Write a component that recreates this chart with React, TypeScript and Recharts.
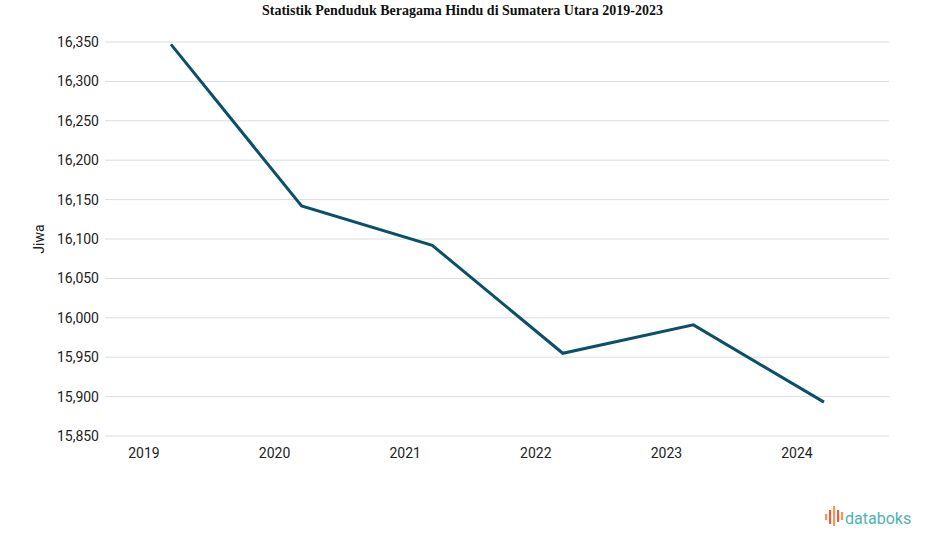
import React from 'react';
import { LineChart, Line, XAxis, YAxis, CartesianGrid } from 'recharts';

const years = ['2019', '2020', '2021', '2022', '2023', '2024'];
const jiwa = [16347, 16142, 16092, 15955, 15991, 15893];
const yTicks = [15850, 15900, 15950, 16000, 16050, 16100, 16150, 16200, 16250, 16300, 16350];

const data = years.map((year, i) => ({ year, value: jiwa[i] }));

const XTick = (props: any) => {
  const { x, y, payload } = props;
  return (
    <text x={x - 27} y={y + 14} textAnchor="middle" fontSize={14} fill="#222" fontFamily="Roboto">
      {payload.value}
    </text>
  );
};

const Logo = () => {
  const bars = [
    { x: 825, y: 514, h: 6, c: '#f29a52' },
    { x: 829, y: 510, h: 14, c: '#e85c4a' },
    { x: 833, y: 506, h: 20, c: '#f29a52' },
    { x: 837, y: 510, h: 12, c: '#e85c4a' },
    { x: 841, y: 512, h: 8, c: '#f29a52' },
  ];
  return (
    <g>
      {bars.map((b, i) => (
        <rect key={i} x={b.x} y={b.y} width={2.2} height={b.h} fill={b.c} />
      ))}
      <text x={845} y={524} fontSize={16} fill="#4cb5ad" fontFamily="Roboto">
        databoks
      </text>
    </g>
  );
};

const App: React.FC = () => {
  return (
    <div style={{ position: 'absolute', left: 0, top: 0, width: 925, height: 547, background: '#fff' }}>
      <LineChart width={925} height={547} data={data} margin={{ top: 42, right: 36, left: 0, bottom: 81 }}>
        <text
          x={462.5}
          y={15}
          textAnchor="middle"
          fontSize={14}
          fontWeight="bold"
          fontFamily="Liberation Serif"
          fill="#111"
          textLength={401}
          lengthAdjust="spacingAndGlyphs"
        >
          Statistik Penduduk Beragama Hindu di Sumatera Utara 2019-2023
        </text>
        <CartesianGrid vertical={false} stroke="#dcdcdc" />
        <XAxis
          dataKey="year"
          axisLine={false}
          tickLine={false}
          height={30}
          padding={{ left: 66, right: 65 }}
          tick={<XTick />}
        />
        <YAxis
          domain={[15850, 16350]}
          ticks={yTicks}
          width={105}
          axisLine={false}
          tickLine={false}
          tickSize={0}
          tickMargin={6}
          tickFormatter={(v: number) => v.toLocaleString('en-US')}
          tick={{ fontSize: 14, fill: '#222', fontFamily: 'Roboto' }}
          label={{
            value: 'Jiwa',
            angle: -90,
            position: 'insideLeft',
            offset: 39,
            style: { fontSize: 14, fill: '#222', fontFamily: 'Roboto', textAnchor: 'middle' },
          }}
        />
        <Line
          type="linear"
          dataKey="value"
          stroke="#0b5069"
          strokeWidth={3}
          dot={false}
          activeDot={false}
          isAnimationActive={false}
        />
        <Logo />
      </LineChart>
    </div>
  );
};

export default App;
